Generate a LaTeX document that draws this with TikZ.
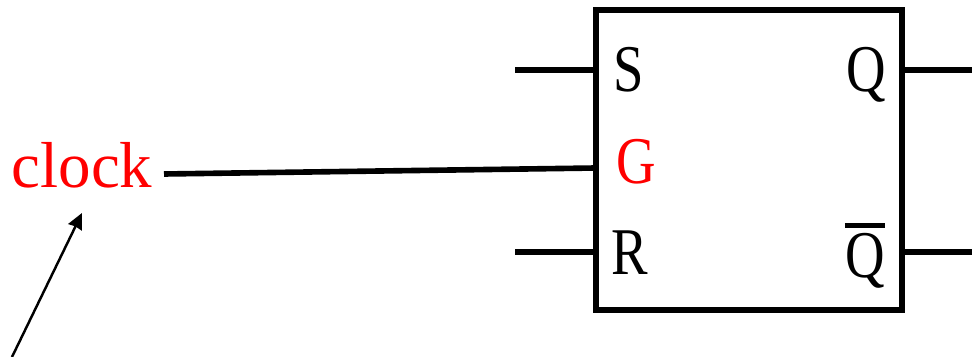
\documentclass[tikz,border=0pt]{standalone}
\usepackage{fontspec}
\usetikzlibrary{arrows.meta}
\setmainfont{Liberation Serif}
\newfontfamily\pinfont[FakeStretch=0.82]{Liberation Serif}
\tikzset{
    wire/.style={line width=3.2pt},
    pin/.style={anchor=base, inner sep=0pt, font=\pinfont\fontsize{38}{40}\selectfont},
}
\begin{document}
\begin{tikzpicture}[x=0.02cm, y=-0.02cm]
    \useasboundingbox (0,0) rectangle (972,357);

    % Latch
    \node[draw, line width=3.2pt, inner sep=0pt, outer sep=0pt, minimum width=6.12cm, minimum height=6cm] (latch) at (749,160) {};

    % Etichette
    \node[pin] (s) at (629,92) {S};
    \node[pin, red] (g) at (636,184) {G};
    \node[pin] (r) at (630,275) {R};
    \node[pin] (q) at (866,92) {Q};
    \node[pin] (qbar) at (865,278) {Q};
    \node[anchor=base, inner sep=0pt, red, font=\fontsize{37}{40}\selectfont] (clock) at (82,188) {clock};

    % Estremi liberi
    \coordinate (sin) at (515,70);
    \coordinate (rin) at (515,252);
    \coordinate (qout) at (972,70);
    \coordinate (qbarout) at (972,252);
    \coordinate (clockout) at (164,174);
    \coordinate (gin) at (596,168);
    \coordinate (tail) at (12,357);
    \coordinate (tip) at (82,213);

    % Fili
    \draw[wire] (sin) -- (sin -| latch.west);
    \draw[wire] (rin) -- (rin -| latch.west);
    \draw[wire] (qout) -- (qout -| latch.east);
    \draw[wire] (qbarout) -- (qbarout -| latch.east);
    \draw[wire] (clockout) -- (gin);

    % Barra sul Q
    \draw[line width=2.4pt] ([yshift=4.5pt]qbar.north west) -- ([yshift=4.5pt]qbar.north east);

    % Freccia
    \draw[-{Stealth[length=9pt, width=8.5pt, inset=0.5pt]}, line width=1.4pt] (tail) -- (tip);
\end{tikzpicture}
\end{document}
